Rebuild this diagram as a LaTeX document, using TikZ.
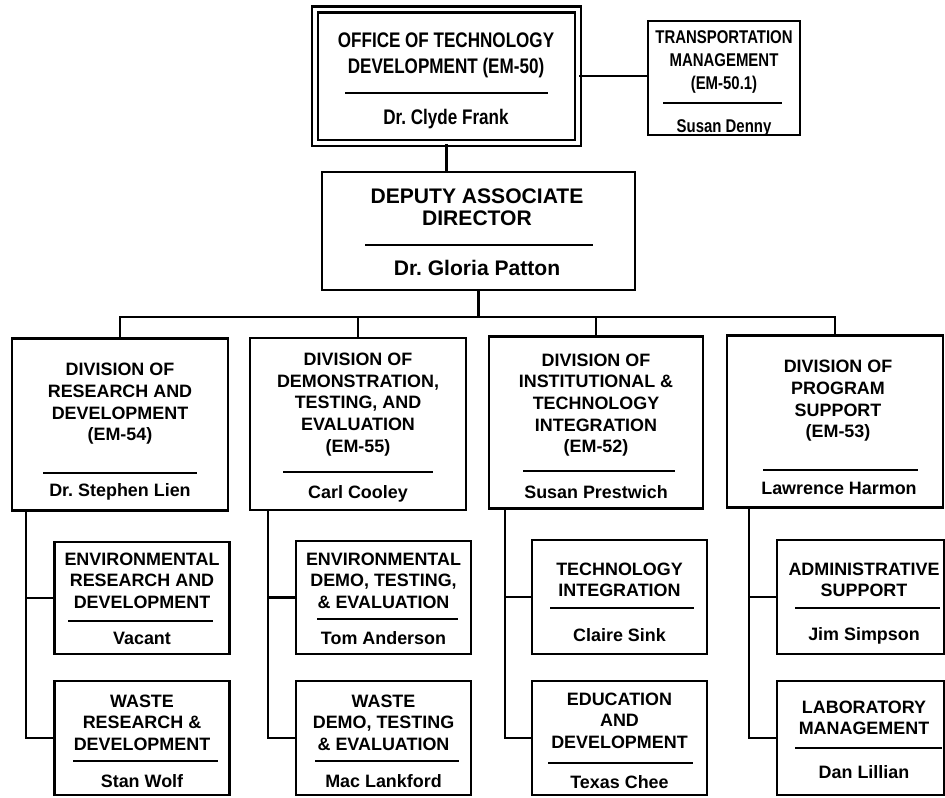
\documentclass[tikz,border=0pt]{standalone}
\usepackage{fontspec}
\setmainfont{Liberation Sans}
\newfontfamily\narrowsans[FakeStretch=0.81]{Liberation Sans}
\frenchspacing
\begin{document}
\begin{tikzpicture}[x=0.02cm, y=-0.02cm,
  unit/.style={draw, line width=1.35pt, inner sep=0pt},
  div/.style={unit, minimum width=4.32cm, minimum height=3.44cm},
  sub/.style={unit, minimum width=3.5cm, minimum height=2.28cm},
  head/.style={align=center, inner sep=0pt, font=\bfseries\fontsize{10.2}{12.3}\selectfont},
  who/.style={anchor=base, inner sep=0pt, font=\bfseries\fontsize{10.2}{12.3}\selectfont},
  sep/.style={line width=0.7pt},
  link/.style={line width=1.2pt}]
\useasboundingbox (0,0) rectangle (945,797);
\node[unit, line width=1.2pt, double, double distance=2.2pt, minimum width=5.26cm, minimum height=2.67cm] (otd) at (446.5,76.25) {};
\node[head, font=\narrowsans\bfseries\fontsize{12}{14.5}\selectfont] (otdT) at (446,55.5) {OFFICE OF TECHNOLOGY\\DEVELOPMENT (EM-50)};
\draw[sep] (345,93) -- (548,93);
\node[who, font=\narrowsans\bfseries\fontsize{12}{14.5}\selectfont] (otdN) at (446,125) {Dr. Clyde Frank};
\node[unit, minimum width=3.04cm, minimum height=2.28cm] (tm) at (724,78) {};
\node[head, font=\narrowsans\bfseries\fontsize{10.5}{13}\selectfont] (tmT) at (724,62) {TRANSPORTATION\\MANAGEMENT\\(EM-50.1)};
\draw[sep] (663,103) -- (782,103);
\node[who, font=\narrowsans\bfseries\fontsize{10.5}{13}\selectfont] (tmN) at (724,132.6) {Susan Denny};
\node[unit, minimum width=6.26cm, minimum height=2.36cm] (dad) at (478.5,231) {};
\node[head, font=\bfseries\fontsize{12}{12.5}\selectfont] (dadT) at (477,207) {DEPUTY ASSOCIATE\\DIRECTOR};
\draw[sep] (365,245) -- (593,245);
\node[who, font=\bfseries\fontsize{12}{12.5}\selectfont] (dadN) at (477,275.6) {Dr. Gloria Patton};
\node[div] (rd) at (120,424.5) {};
\node[head] (rdT) at (120,404) {DIVISION OF\\RESEARCH AND\\DEVELOPMENT\\(EM-54)};
\draw[sep] (43,473) -- (197,473);
\node[who] (rdN) at (120,496.5) {Dr. Stephen Lien};
\node[div] (dte) at (358,424) {};
\node[head] (dteT) at (358,404.5) {DIVISION OF\\DEMONSTRATION,\\TESTING, AND\\EVALUATION\\(EM-55)};
\draw[sep] (283,472) -- (433,472);
\node[who] (dteN) at (358,498) {Carl Cooley};
\node[div, minimum width=4.28cm] (iti) at (596,422.5) {};
\node[head] (itiT) at (596,405) {DIVISION OF\\INSTITUTIONAL \&\\TECHNOLOGY\\INTEGRATION\\(EM-52)};
\draw[sep] (523,471) -- (675,471);
\node[who] (itiN) at (596,498.5) {Susan Prestwich};
\node[div] (ps) at (835,421.5) {};
\node[head] (psT) at (838,401) {DIVISION OF\\PROGRAM\\SUPPORT\\(EM-53)};
\draw[sep] (763,470) -- (918,470);
\node[who] (psN) at (839,494.5) {Lawrence Harmon};
\node[sub, minimum height=2.24cm] (erd) at (142,598) {};
\node[head] (erdT) at (142,580.5) {ENVIRONMENTAL\\RESEARCH AND\\DEVELOPMENT};
\draw[sep] (68,621) -- (213,621);
\node[who] (erdN) at (142,644.8) {Vacant};
\node[sub] (wrd) at (142,738) {};
\node[head] (wrdT) at (142,722.5) {WASTE\\RESEARCH \&\\DEVELOPMENT};
\draw[sep] (73,761) -- (218,761);
\node[who] (wrdN) at (142,787) {Stan Wolf};
\node[sub, minimum height=2.26cm] (edte) at (383.5,597.5) {};
\node[head] (edteT) at (383.5,580.5) {ENVIRONMENTAL\\DEMO, TESTING,\\\& EVALUATION};
\draw[sep] (317,619) -- (458,619);
\node[who] (edteN) at (383.5,644) {Tom Anderson};
\node[sub] (wdte) at (383.5,738) {};
\node[head] (wdteT) at (383.5,722.5) {WASTE\\DEMO, TESTING\\\& EVALUATION};
\draw[sep] (315,761) -- (459,761);
\node[who] (wdteN) at (383.5,787.5) {Mac Lankford};
\node[sub] (ti) at (619.5,597) {};
\node[head] (tiT) at (619.5,580) {TECHNOLOGY\\INTEGRATION};
\draw[sep] (550,608) -- (694,608);
\node[who] (tiN) at (619.5,641.5) {Claire Sink};
\node[sub] (ed) at (619.5,738) {};
\node[head] (edT) at (619.5,720.8) {EDUCATION\\AND\\DEVELOPMENT};
\draw[sep] (548,763) -- (693,763);
\node[who] (edN) at (619.5,788) {Texas Chee};
\node[sub, minimum width=3.34cm] (adm) at (860.5,597) {};
\node[head] (admT) at (864,580) {ADMINISTRATIVE\\SUPPORT};
\draw[sep] (795,608) -- (940,608);
\node[who] (admN) at (864,640.5) {Jim Simpson};
\node[sub, minimum width=3.34cm] (lm) at (860.5,738) {};
\node[head] (lmT) at (864,718) {LABORATORY\\MANAGEMENT};
\draw[sep] (795,748) -- (942,748);
\node[who] (lmN) at (864,778) {Dan Lillian};
\draw[link] (otd.east) -- (otd.east -| tm.west);
\draw[link] (otd.south) -- (otd.south |- dad.north);
\draw[link] (dad.south) -- ++(0,26) coordinate (bus);
\draw[link] (rd.north) |- (bus) -| (ps.north);
\draw[link] (dte.north) -- (dte.north |- bus);
\draw[link] (iti.north) -- (iti.north |- bus);
\draw[link] ([xshift=0.3cm]rd.south west) |- (erd.west);
\draw[link] ([xshift=0.3cm]rd.south west) |- (wrd.west);
\draw[link] ([xshift=0.38cm]dte.south west) |- (edte.west);
\draw[link] ([xshift=0.38cm]dte.south west) |- (wdte.west);
\draw[link] ([xshift=0.34cm]iti.south west) |- (ti.west);
\draw[link] ([xshift=0.34cm]iti.south west) |- (ed.west);
\draw[link] ([xshift=0.46cm]ps.south west) |- (adm.west);
\draw[link] ([xshift=0.46cm]ps.south west) |- (lm.west);
\end{tikzpicture}
\end{document}
